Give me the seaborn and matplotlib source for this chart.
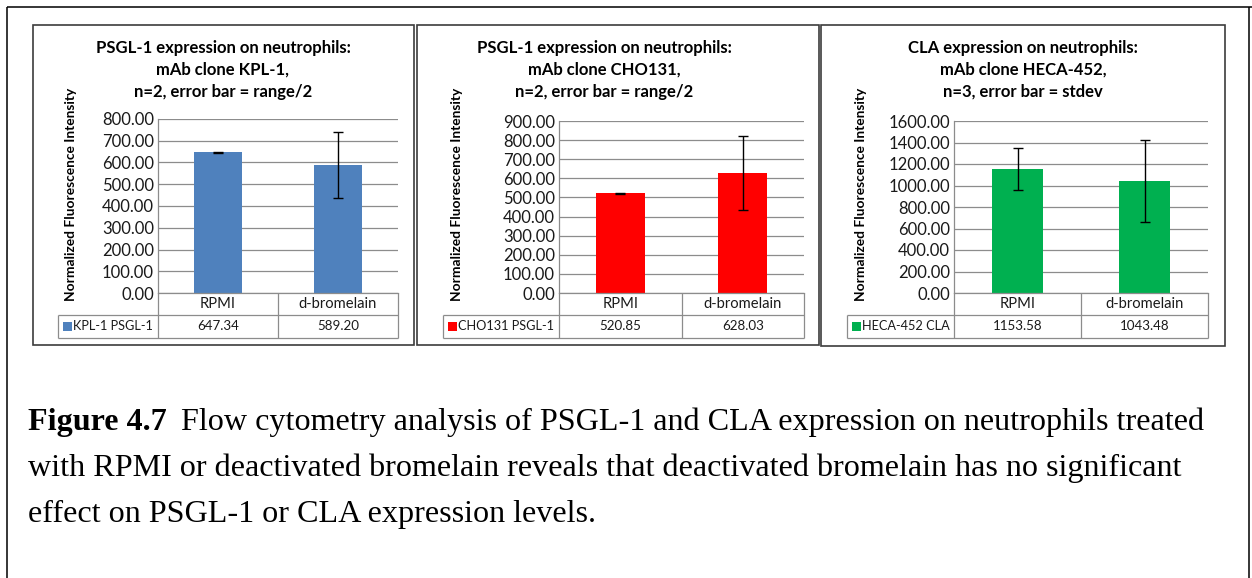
import numpy as np
import pandas as pd
import matplotlib
matplotlib.use("Agg")
import matplotlib.pyplot as plt
import matplotlib.transforms as mtransforms
from matplotlib.lines import Line2D
from matplotlib.patches import Rectangle
from matplotlib.ticker import FormatStrFormatter
from matplotlib.textpath import TextPath
from matplotlib.font_manager import FontProperties
import seaborn as sns

# ---- data -------------------------------------------------------------
categories = ["RPMI", "d-bromelain"]

kpl1_values = [647.34, 589.20]
kpl1_errors = [2.0, 152.0]

cho131_values = [520.85, 628.03]
cho131_errors = [2.0, 196.0]

heca_values = [1153.58, 1043.48]
heca_errors = [193.0, 384.0]

series_names = ["KPL-1 PSGL-1", "CHO131 PSGL-1", "HECA-452 CLA"]
panel_titles = [
    ["PSGL-1 expression on neutrophils:", "mAb clone KPL-1,", "n=2, error bar = range/2"],
    ["PSGL-1 expression on neutrophils:", "mAb clone CHO131,", "n=2, error bar = range/2"],
    ["CLA expression on neutrophils:", "mAb clone HECA-452,", "n=3, error bar = stdev"],
]
y_label = "Normalized Fluorescence Intensity"
y_max = [800, 900, 1600]
y_step = [100, 100, 200]
bar_colors = ["#4F81BD", "#FF0000", "#00B050"]

caption_bold = "Figure 4.7"
caption_lines = [
    "Flow cytometry analysis of PSGL-1 and CLA expression on neutrophils treated",
    "with RPMI or deactivated bromelain reveals that deactivated bromelain has no significant",
    "effect on PSGL-1 or CLA expression levels.",
]

values = [kpl1_values, cho131_values, heca_values]
errors = [kpl1_errors, cho131_errors, heca_errors]

# ---- layout (pixel units) ------------------------------------------------
W, H, DPI = 1252, 578, 100
# panel frame: left, top, right, bottom
panel_boxes = [(33, 25, 414, 345), (417, 25, 819, 345), (821, 25, 1225, 346)]
# plot area: left, top, right, bottom
plot_rects = [(158, 119, 398, 293), (559, 121, 804, 293), (954, 121, 1208, 293)]
legend_left = [58, 443, 847]
title_cx = [223, 604, 1023]
ylabel_cx = [71, 457, 861]
ylabel_cy = 194
row1_bottom, row2_bottom = 315, 338

SANS = "Lato"
SERIF = "Liberation Serif"
GRID = "#8C8C8C"


def fx(x):
    return x / W


def fy(y):
    return 1 - y / H


def fit_size(s, width_px, family, weight="normal"):
    fp = FontProperties(family=family, weight=weight)
    w = TextPath((0, 0), s, size=10, prop=fp).get_extents().width
    return 10 * (width_px * 72 / DPI) / w


def fig_line(fig, xs, ys, color=GRID, lw=0.9):
    fig.add_artist(Line2D([fx(x) for x in xs], [fy(y) for y in ys],
                          transform=fig.transFigure, color=color, lw=lw,
                          solid_capstyle="butt"))


sns.set_style("white")
plt.rcParams["font.family"] = [SANS, "DejaVu Sans"]

fig = plt.figure(figsize=(W / DPI, H / DPI), dpi=DPI)
fig.patch.set_facecolor("white")

title_fs = fit_size(panel_titles[0][0], 253, SANS, "bold")
ylabel_fs = fit_size(y_label, 212, SANS, "bold")
tick_fs = fit_size("800.00", 51, SANS)
cat_fs = fit_size("d-bromelain", 77, SANS)
val_fs = fit_size("589.20", 41, SANS)
leg_fs = fit_size("KPL-1 PSGL-1", 79, SANS)

for i in range(3):
    left, top, right, bottom = plot_rects[i]
    ax = fig.add_axes([fx(left), fy(bottom), (right - left) / W, (bottom - top) / H])
    df = pd.DataFrame({"condition": categories, "value": values[i]})
    sns.barplot(data=df, x="condition", y="value", ax=ax, color=bar_colors[i],
                width=0.4, saturation=1, errorbar=None, linewidth=0, zorder=2)
    ax.errorbar(np.arange(len(categories)), values[i], yerr=errors[i], fmt="none",
                ecolor="black", elinewidth=1.0, capsize=3.6, capthick=1.0, zorder=3)
    ax.set_xlim(-0.5, len(categories) - 0.5)
    ax.set_ylim(0, y_max[i])
    ax.set_yticks(np.arange(0, y_max[i] + 1, y_step[i]))
    ax.yaxis.set_major_formatter(FormatStrFormatter("%.2f"))
    ax.grid(axis="y", color=GRID, lw=0.9)
    ax.set_axisbelow(True)
    for side in ("top", "right"):
        ax.spines[side].set_visible(False)
    for side in ("left", "bottom"):
        ax.spines[side].set_color(GRID)
        ax.spines[side].set_linewidth(0.9)
    ax.tick_params(axis="y", length=0, pad=3, labelsize=tick_fs, labelcolor="#1a1a1a")
    ax.set_xticks([])
    ax.set_xlabel("")
    ax.set_ylabel("")

    # panel frame
    bx0, by0, bx1, by1 = panel_boxes[i]
    fig.add_artist(Rectangle((fx(bx0), fy(by1)), (bx1 - bx0) / W, (by1 - by0) / H,
                             transform=fig.transFigure, fill=False,
                             edgecolor="#3c3c3c", lw=1.2))

    # titles
    for k, line in enumerate(panel_titles[i]):
        fig.text(fx(title_cx[i]), fy(53 + 22 * k), line, ha="center", va="baseline",
                 fontsize=title_fs, fontweight="bold", color="black")

    # y label
    fig.text(fx(ylabel_cx[i]), fy(ylabel_cy), y_label, rotation=90, ha="center",
             va="center", fontsize=ylabel_fs, fontweight="bold", color="black")

    # data table under the axis
    mid = (left + right) / 2
    for x in (left, mid, right):
        fig_line(fig, [x, x], [bottom, row2_bottom])
    ll = legend_left[i]
    fig_line(fig, [ll, right], [row1_bottom, row1_bottom])
    fig_line(fig, [ll, right], [row2_bottom, row2_bottom])
    fig_line(fig, [ll, ll], [row1_bottom, row2_bottom])

    trans = mtransforms.blended_transform_factory(ax.transData, fig.transFigure)
    for j, cat in enumerate(categories):
        ax.text(j, fy((bottom + row1_bottom) / 2), cat, transform=trans,
                ha="center", va="center", fontsize=cat_fs, color="#1a1a1a", clip_on=False)
        ax.text(j, fy((row1_bottom + row2_bottom) / 2), f"{values[i][j]:.2f}",
                transform=trans, ha="center", va="center", fontsize=val_fs,
                color="#1a1a1a", clip_on=False)

    # legend key in the table
    sx = ll + 5
    fig.add_artist(Rectangle((fx(sx), fy(331)), 9 / W, 9 / H, transform=fig.transFigure,
                             facecolor=bar_colors[i], edgecolor="none"))
    fig.text(fx(sx + 10), fy((row1_bottom + row2_bottom) / 2), series_names[i],
             ha="left", va="center", fontsize=leg_fs, color="#1a1a1a")

# outer frame
fig_line(fig, [7, W], [7, 7], color="black", lw=1.1)
fig_line(fig, [7, 7], [7, H], color="black", lw=1.1)
fig_line(fig, [1249, 1249], [7, H], color="black", lw=1.1)

# caption
fp_b = FontProperties(family=SERIF, weight="bold")
fp_r = FontProperties(family=SERIF)
wb10 = TextPath((0, 0), caption_bold, size=10, prop=fp_b).get_extents().width
wr10 = TextPath((0, 0), caption_lines[0], size=10, prop=fp_r).get_extents().width
target = 1174
k = DPI / 72
cap_fs = target / (((wb10 + wr10) / 10) * k + 0.5 * k)
cap_x0 = 28
bold_px = wb10 / 10 * cap_fs * k
gap_px = 0.5 * cap_fs * k
baselines = [430, 476, 522]
fig.text(fx(cap_x0), fy(baselines[0]), caption_bold, ha="left", va="baseline",
         fontsize=cap_fs, fontweight="bold", family=SERIF, color="black")
fig.text(fx(cap_x0 + bold_px + gap_px), fy(baselines[0]), caption_lines[0], ha="left",
         va="baseline", fontsize=cap_fs, family=SERIF, color="black")
for line, b in zip(caption_lines[1:], baselines[1:]):
    fig.text(fx(cap_x0), fy(b), line, ha="left", va="baseline", fontsize=cap_fs,
             family=SERIF, color="black")

fig.savefig("out.png", dpi=DPI, facecolor="white")
